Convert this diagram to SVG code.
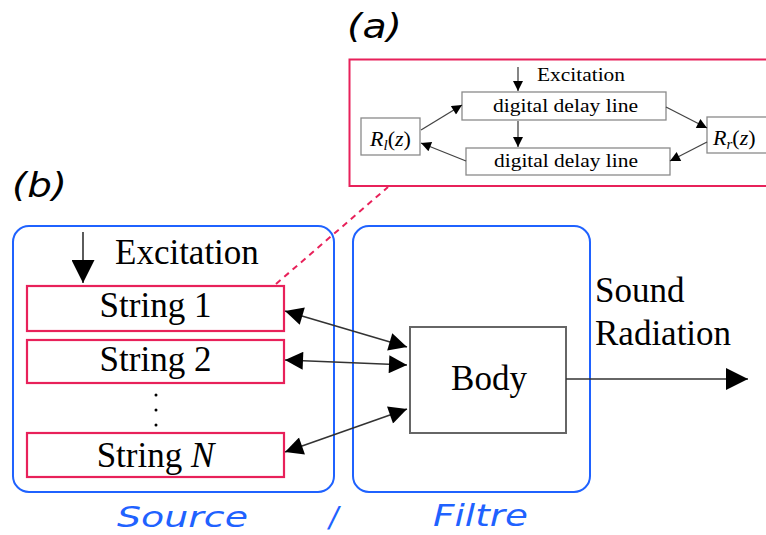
<svg xmlns="http://www.w3.org/2000/svg" width="766" height="535" viewBox="0 0 766 535">
<style>
.serif{font-family:"Liberation Serif","Times New Roman",serif;fill:#000}
.lbl{font-family:"DejaVu Sans",sans-serif;font-style:oblique}
.gbox{fill:#fff;stroke:#8a8a8a;stroke-width:1.3}
.sbox{fill:#fff;stroke:#e8215a;stroke-width:2.2}
.blue{fill:none;stroke:#1f62ff;stroke-width:2}
.ln{fill:none;stroke:#444;stroke-width:1.3}
.lnb{fill:none;stroke:#333;stroke-width:1.6}
</style>
<defs>
<marker id="sm" viewBox="0 0 10 10" refX="10" refY="5" markerUnits="userSpaceOnUse" markerWidth="13" markerHeight="10" orient="auto-start-reverse"><path d="M0,0 L10,5 L0,10 z" fill="#000"/></marker>
<marker id="big" viewBox="0 0 10 10" refX="10" refY="5" markerUnits="userSpaceOnUse" markerWidth="26" markerHeight="18" orient="auto-start-reverse"><path d="M0,0 L10,5 L0,10 z" fill="#000"/></marker>
<marker id="out" viewBox="0 0 10 10" refX="10" refY="5" markerUnits="userSpaceOnUse" markerWidth="31" markerHeight="22" orient="auto"><path d="M0,0 L10,5 L0,10 z" fill="#000"/></marker>
<marker id="exc" viewBox="0 0 10 10" refX="10" refY="5" markerUnits="userSpaceOnUse" markerWidth="27" markerHeight="23" orient="auto"><path d="M0,0 L10,5 L0,10 z" fill="#000"/></marker>
</defs>

<g id="label-a"><text class="lbl" x="347" y="38" font-size="33" textLength="55" lengthAdjust="spacingAndGlyphs">(a)</text></g>
<g id="label-b"><text class="lbl" x="12" y="197" font-size="33" textLength="55" lengthAdjust="spacingAndGlyphs">(b)</text></g>

<g id="panel-a">
<rect x="349.5" y="59.5" width="418" height="126.5" fill="none" stroke="#e8215a" stroke-width="2"/>
</g>
<g id="excitation-a"><text class="serif" x="537" y="81" font-size="18" textLength="88" lengthAdjust="spacingAndGlyphs">Excitation</text></g>
<g id="delay-top"><rect class="gbox" x="462" y="92" width="204" height="28"/><text class="serif" x="565.5" y="112" font-size="19" text-anchor="middle" textLength="145" lengthAdjust="spacingAndGlyphs">digital delay line</text></g>
<g id="delay-bottom"><rect class="gbox" x="466" y="148" width="204" height="27"/><text class="serif" x="566" y="167" font-size="19" text-anchor="middle" textLength="144" lengthAdjust="spacingAndGlyphs">digital delay line</text></g>
<g id="Rl"><rect class="gbox" x="361" y="118" width="59" height="37"/><text class="serif" x="370" y="146" font-size="22"><tspan font-style="italic">R</tspan><tspan font-style="italic" font-size="15" dy="4">l</tspan><tspan dy="-4">(</tspan><tspan font-style="italic">z</tspan>)</text></g>
<g id="Rr"><rect class="gbox" x="707" y="117" width="62" height="36"/><text class="serif" x="713" y="145" font-size="22"><tspan font-style="italic">R</tspan><tspan font-style="italic" font-size="15" dy="4">r</tspan><tspan dy="-4">(</tspan><tspan font-style="italic">z</tspan>)</text></g>

<g id="source"><rect class="blue" x="13" y="226" width="321" height="266" rx="16"/></g>
<g id="filtre"><rect class="blue" x="353" y="226" width="237" height="266" rx="16"/></g>
<g id="excitation-b"><text class="serif" x="115" y="264" font-size="35">Excitation</text></g>
<g id="string1"><rect class="sbox" x="27" y="286" width="257" height="45"/><text class="serif" x="155.5" y="317" font-size="35" text-anchor="middle">String 1</text></g>
<g id="string2"><rect class="sbox" x="27" y="340" width="257" height="43"/><text class="serif" x="155.5" y="371" font-size="35" text-anchor="middle">String 2</text></g>
<g id="dots"><circle cx="156" cy="395" r="1.5" fill="#000"/><circle cx="156" cy="410" r="1.5" fill="#000"/><circle cx="156" cy="425" r="1.5" fill="#000"/></g>
<g id="stringN"><rect class="sbox" x="27" y="433" width="257" height="44"/><text class="serif" x="155.5" y="467" font-size="35" text-anchor="middle">String <tspan font-style="italic">N</tspan></text></g>
<g id="body"><rect x="410" y="327" width="156" height="106" fill="#fff" stroke="#666" stroke-width="2"/><text class="serif" x="489" y="390" font-size="35" text-anchor="middle">Body</text></g>
<g id="sound"><text class="serif" x="595" y="302" font-size="35">Sound</text><text class="serif" x="595" y="345" font-size="35">Radiation</text></g>

<g id="connectors">
<line x1="276" y1="284" x2="388" y2="187" stroke="#e8215a" stroke-width="2" stroke-dasharray="6,5"/>
<line class="ln" x1="518" y1="67" x2="518" y2="91" marker-end="url(#sm)"/>
<line class="ln" x1="518" y1="121" x2="518" y2="147" marker-end="url(#sm)"/>
<line class="ln" x1="421" y1="130" x2="462" y2="105" marker-end="url(#sm)"/>
<line class="ln" x1="466" y1="161" x2="421" y2="143" marker-end="url(#sm)"/>
<line class="ln" x1="666" y1="107" x2="707" y2="128" marker-end="url(#sm)"/>
<line class="ln" x1="707" y1="142" x2="670" y2="161" marker-end="url(#sm)"/>
<line class="lnb" x1="83" y1="232" x2="83" y2="283" marker-end="url(#exc)"/>
<line class="lnb" x1="285" y1="311" x2="407" y2="347" marker-start="url(#big)" marker-end="url(#big)"/>
<line class="lnb" x1="285" y1="360" x2="407" y2="365" marker-start="url(#big)" marker-end="url(#big)"/>
<line class="lnb" x1="285" y1="452" x2="407" y2="409" marker-start="url(#big)" marker-end="url(#big)"/>
<line class="lnb" x1="566" y1="379" x2="748" y2="379" marker-end="url(#out)"/>
</g>

<g id="captions">
<text class="lbl" x="117" y="527" font-size="28" fill="#1f62ff" textLength="131" lengthAdjust="spacingAndGlyphs">Source</text>
<text class="lbl" x="329" y="527" font-size="28" fill="#1f62ff">/</text>
<text class="lbl" x="433" y="526" font-size="30" fill="#1f62ff" textLength="95" lengthAdjust="spacingAndGlyphs">Filtre</text>
</g>
</svg>
